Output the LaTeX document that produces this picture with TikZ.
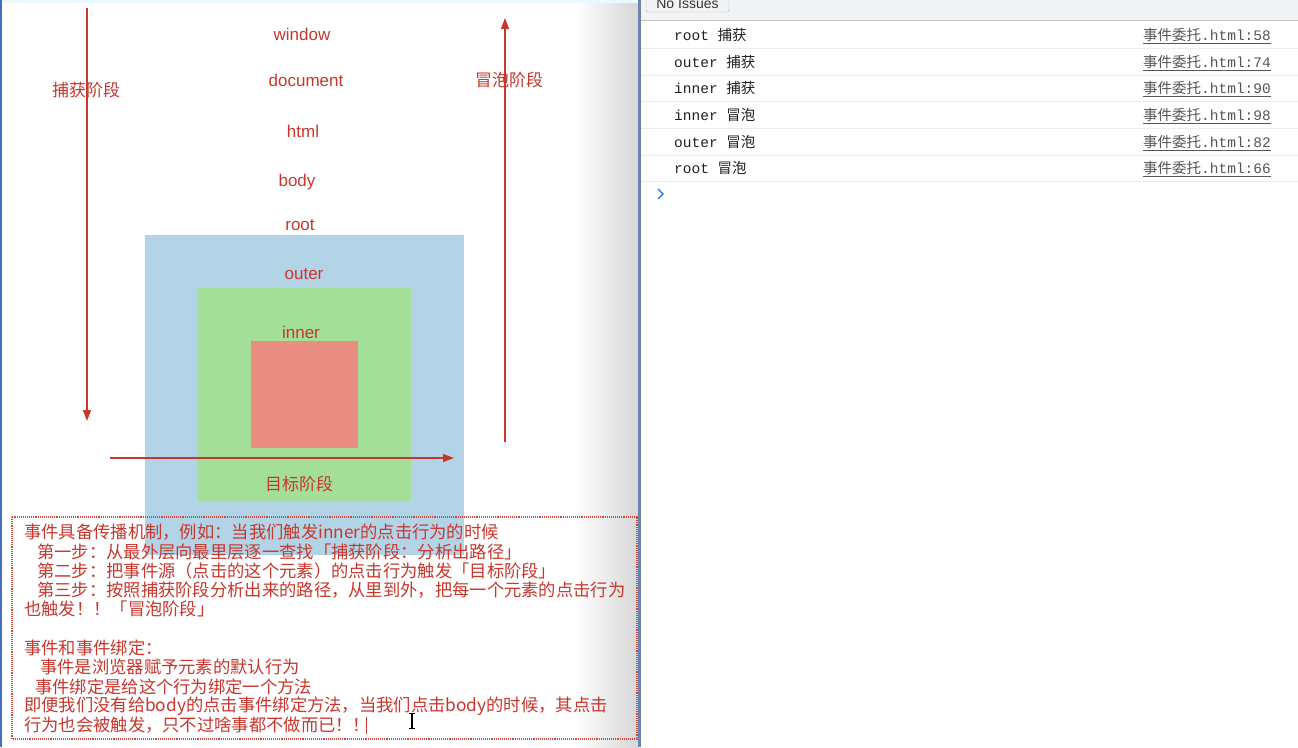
\documentclass[tikz,border=0pt]{standalone}
\usepackage{fontspec}
\setmainfont{Liberation Sans}
\newfontfamily\cjk{Noto Sans CJK SC}
\newfontfamily\mono{Liberation Mono}
\usetikzlibrary{arrows.meta}
\definecolor{tred}{RGB}{200,55,45}
\definecolor{bluebox}{RGB}{179,212,230}
\definecolor{greenbox}{RGB}{163,223,152}
\definecolor{redbox}{RGB}{232,141,127}
\definecolor{conText}{RGB}{32,33,36}
\definecolor{linkc}{RGB}{85,85,85}
\definecolor{sepc}{RGB}{236,236,236}
\definecolor{barbg}{RGB}{241,243,244}
\definecolor{chev}{RGB}{26,115,232}
\definecolor{divc}{RGB}{110,130,175}
\definecolor{edgec}{RGB}{70,110,190}
\definecolor{dotc}{RGB}{205,75,65}
\begin{document}
\begin{tikzpicture}[x=1pt,y=-1pt,
  lbl/.style={text=tred,font=\fontsize{17}{20}\selectfont,inner sep=0},
  cnlbl/.style={text=tred,font=\cjk\fontsize{17}{20}\selectfont,inner sep=0},
  boxline/.style={anchor=west,text=tred,font=\cjk\fontsize{17.3}{19}\selectfont,inner sep=0},
  arr/.style={draw=tred,line width=1.2pt,-{Triangle[length=11pt,width=8pt]}},
  conrow/.style={anchor=west,text=conText,font=\mono\fontsize{14.5}{16}\selectfont,inner sep=0},
  conlink/.style={anchor=east,text=linkc,font=\mono\fontsize{14.5}{16}\selectfont,inner sep=0},
  sepline/.style={draw=sepc,line width=1pt}]
\useasboundingbox (0,0) rectangle (1298,747);
\fill[white] (0,0) rectangle (1298,747);
% left panel decorations
\shade[left color=white,right color=black!16] (575,0) rectangle (638,747);
\fill[cyan!8] (0,0) rectangle (638,3);
\fill[edgec] (0,0) rectangle (2,747);
% nested boxes
\fill[bluebox] (145,235) rectangle (464,555);
\fill[greenbox] (197,288) rectangle (411,501);
\fill[redbox] (251,341) rectangle (358,448);
% labels
\node[lbl] (window) at (302,34) {window};
\node[lbl] (document) at (306,80) {document};
\node[lbl] (html) at (303,131) {html};
\node[lbl] (body) at (297,182) {body};
\node[lbl] (root) at (300,225) {root};
\node[lbl] (outer) at (304,274) {outer};
\node[lbl] (inner) at (301,332) {inner};
\node[cnlbl] (target) at (299,484) {目标阶段};
\node[cnlbl] (capture) at (86,90) {捕获阶段};
\node[cnlbl] (bubble) at (509,80) {冒泡阶段};
% arrows
\coordinate (capTop) at (87,8);
\coordinate (capBot) at (87,421);
\coordinate (bubBot) at (505,442);
\coordinate (bubTop) at (505,18);
\coordinate (tgtL) at (110,458);
\coordinate (tgtR) at (454,458);
\draw[arr] (capTop) -- (capBot);
\draw[arr] (bubBot) -- (bubTop);
\draw[arr] (tgtL) -- (tgtR);
% text box
\draw[dotc,line width=1.1pt,dash pattern=on 1.1pt off 1pt] (12,517) rectangle (637,739);
\node[boxline] (l1) at (24,532) {事件具备传播机制，例如：当我们触发inner的点击行为的时候};
\node[boxline] (l2) at (37,552) {第一步：从最外层向最里层逐一查找「捕获阶段：分析出路径」};
\node[boxline] (l3) at (37,571) {第二步：把事件源（点击的这个元素）的点击行为触发「目标阶段」};
\node[boxline] (l4) at (37,590) {第三步：按照捕获阶段分析出来的路径，从里到外，把每一个元素的点击行为};
\node[boxline] (l5) at (24,609) {也触发！！「冒泡阶段」};
\node[boxline] (l6) at (24,648) {事件和事件绑定：};
\node[boxline] (l7) at (40,667) {事件是浏览器赋予元素的默认行为};
\node[boxline] (l8) at (35,687) {事件绑定是给这个行为绑定一个方法};
\node[boxline] (l9) at (24,706) {即便我们没有给body的点击事件绑定方法，当我们点击body的时候，其点击};
\node[boxline] (l10) at (24,725) {行为也会被触发，只不过啥事都不做而已！！};
\draw[tred,line width=0.8pt] ([xshift=-4pt,yshift=-9pt]l10.east) -- ([xshift=-4pt,yshift=8pt]l10.east);
% I-beam mouse cursor
\coordinate (ibeam) at (412,721);
\draw[black,line width=1.1pt] ([yshift=-7pt]ibeam) -- ([yshift=7pt]ibeam);
\draw[black,line width=0.9pt] ([xshift=-3pt,yshift=-7.5pt]ibeam) -- ([xshift=3pt,yshift=-7.5pt]ibeam);
\draw[black,line width=0.9pt] ([xshift=-3pt,yshift=7.5pt]ibeam) -- ([xshift=3pt,yshift=7.5pt]ibeam);
% console panel
\fill[white] (641,0) rectangle (1298,747);
\fill[divc] (638,0) rectangle (641,747);
\fill[barbg] (641,0) rectangle (1298,20);
\draw[black!22,line width=1pt] (641,20.5) -- (1298,20.5);
\draw[fill=barbg,draw=black!30,rounded corners=2pt] (646,-6) rectangle (729,12);
\node[text=black!80,font=\fontsize{14}{16}\selectfont,inner sep=0] (noissues) at (687.5,3.5) {No Issues};
\foreach \y in {48,75,101,128,155,181} \draw[sepline] (641,\y) -- (1298,\y);
\node[conrow] (r1) at (674,35) {root {\cjk 捕获}};
\node[conrow] (r2) at (674,62) {outer {\cjk 捕获}};
\node[conrow] (r3) at (674,88) {inner {\cjk 捕获}};
\node[conrow] (r4) at (674,115) {inner {\cjk 冒泡}};
\node[conrow] (r5) at (674,142) {outer {\cjk 冒泡}};
\node[conrow] (r6) at (674,168) {root {\cjk 冒泡}};
\foreach \n/\y/\l in {k1/35/58,k2/62/74,k3/88/90,k4/115/98,k5/142/82,k6/168/66}{
  \node[conlink] (\n) at (1271,\y) {{\cjk 事件委托}.html:\l};
  \draw[linkc,line width=0.8pt] ([yshift=-8pt]\n.west) -- ([yshift=-8pt]\n.east);
}
\draw[chev,line width=1.3pt] (658,189) -- (663,194) -- (658,199);
\end{tikzpicture}
\end{document}
